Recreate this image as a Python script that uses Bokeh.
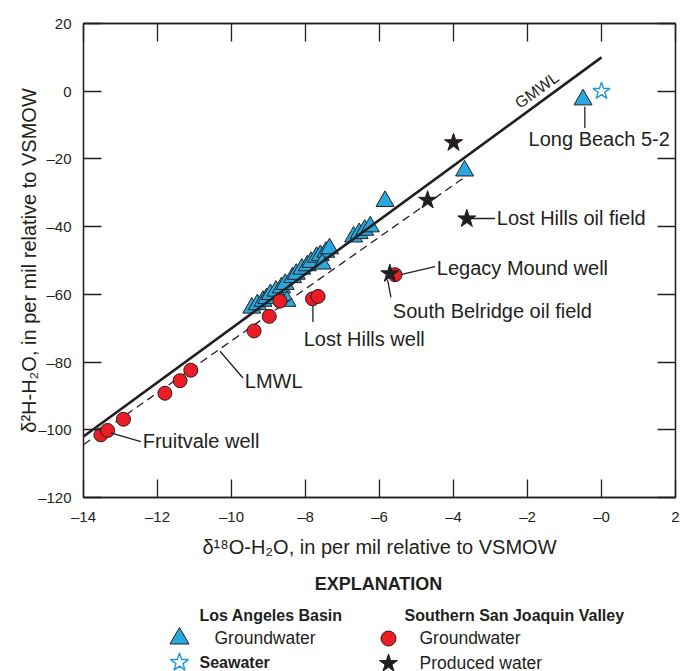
from bokeh.plotting import figure
from bokeh.models import Range1d, FixedTicker, LinearAxis
from bokeh.layouts import column
from bokeh.embed import file_html
from bokeh.resources import INLINE
from bokeh.core.properties import value

# ---------------- data ----------------
# Los Angeles Basin groundwater (triangles)
la_gw_d18o = [-9.45, -9.30, -9.15, -9.05, -8.95, -8.80, -8.65, -8.50, -8.55, -8.35,
              -8.25, -8.10, -7.95, -7.85, -7.70, -7.60, -7.45, -7.35, -7.55, -6.70,
              -6.55, -6.40, -6.25, -5.85, -3.70, -0.50]
la_gw_d2h = [-64.0, -63.0, -62.0, -61.2, -60.0, -59.0, -58.0, -62.0, -57.0, -55.0,
             -54.0, -52.5, -51.5, -50.5, -49.0, -48.5, -47.5, -46.5, -51.0, -43.0,
             -42.0, -41.0, -40.0, -32.5, -23.5, -2.5]
# Seawater
sea_d18o = [0.0]
sea_d2h = [0.0]
# Southern San Joaquin Valley groundwater (circles)
sj_gw_d18o = [-13.53, -13.35, -12.92, -11.80, -11.39, -11.10, -9.39, -8.98, -8.69,
              -7.81, -7.66, -5.58]
sj_gw_d2h = [-101.5, -100.2, -96.9, -89.2, -85.5, -82.4, -70.8, -66.5, -62.0,
             -61.3, -60.6, -54.2]
# Southern San Joaquin Valley produced water (stars)
prod_d18o = [-4.00, -4.70, -3.64, -5.72]
prod_d2h = [-15.2, -32.2, -37.7, -53.9]

# meteoric water lines (end points)
gmwl_x = [-14.0, 0.0]
gmwl_y = [-102.0, 10.0]
lmwl_x = [-14.0, -3.7]
lmwl_y = [-104.4, -25.4]

x_ticks = [-14, -12, -10, -8, -6, -4, -2, 0, 2]
x_tick_labels = ["\u201314", "\u201312", "\u201310", "\u20138", "\u20136", "\u20134",
                 "\u20132", "\u20130", "2"]
y_ticks = [-120, -100, -80, -60, -40, -20, 0, 20]
y_tick_labels = ["\u2013120", "\u2013100", "\u201380", "\u201360", "\u201340",
                 "\u201320", "0", "20"]

# annotations: text, text x, text y, leader x0, y0, x1, y1
ann_text = ["Long Beach 5-2", "Lost Hills oil field", "Legacy Mound well",
            "South Belridge oil field", "Lost Hills well", "LMWL", "Fruitvale well"]
ann_x = [-1.97, -2.83, -4.45, -5.64, -8.05, -9.64, -12.40]
ann_y = [-14.1, -37.4, -52.1, -65.0, -73.2, -85.6, -103.2]
lead_x0 = [-0.45, -3.50, -5.40, -5.78, -7.80, -10.31, -13.26]
lead_y0 = [-4.6, -37.6, -54.1, -55.8, -63.4, -76.8, -100.9]
lead_x1 = [-0.45, -2.88, -4.50, -5.69, -7.80, -9.69, -12.45]
lead_y1 = [-10.9, -37.6, -51.8, -60.9, -68.2, -84.7, -103.5]

TXT = "#231f20"
BLUE = "#29a8e0"
RED = "#ec1c24"
FONT = "Liberation Sans"

p = figure(width=689, height=560, x_range=Range1d(-14, 2), y_range=Range1d(-120, 20),
           output_backend="svg", toolbar_location=None,
           min_border_left=83, min_border_right=14, min_border_top=23, min_border_bottom=40)
p.grid.visible = False
p.outline_line_color = TXT
p.outline_line_width = 1.3
p.background_fill_color = "white"
p.border_fill_color = "white"

for ax in (p.xaxis[0], p.yaxis[0]):
    ax.major_tick_in = 18
    ax.major_tick_out = 0
    ax.minor_tick_line_color = None
    ax.axis_line_color = TXT
    ax.axis_line_width = 1.3
    ax.major_tick_line_color = TXT
    ax.major_tick_line_width = 1.3
    ax.major_label_text_font = FONT
    ax.major_label_text_font_size = "15px"
    ax.major_label_text_color = TXT
    ax.axis_label_text_font = FONT
    ax.axis_label_text_font_size = "20px"
    ax.axis_label_text_font_style = "normal"
    ax.axis_label_text_color = TXT

p.xaxis[0].ticker = FixedTicker(ticks=x_ticks)
p.xaxis[0].major_label_overrides = dict(zip(x_ticks, x_tick_labels))
p.xaxis[0].axis_label = "\u03b4\u00b9\u2078O-H\u2082O, in per mil relative to VSMOW"
p.xaxis[0].major_label_standoff = 10
p.xaxis[0].axis_label_standoff = 8
p.yaxis[0].ticker = FixedTicker(ticks=y_ticks)
p.yaxis[0].major_label_overrides = dict(zip(y_ticks, y_tick_labels))
p.yaxis[0].axis_label = "\u03b4\u00b2H-H\u2082O, in per mil relative to VSMOW"
p.yaxis[0].major_label_standoff = 12
p.yaxis[0].axis_label_standoff = -5

# ticks on top / right (no labels painted)
def tick_axis(ticks):
    return LinearAxis(ticker=FixedTicker(ticks=ticks), major_label_text_font_size="1px",
                      major_label_text_color=None, major_label_standoff=0,
                      major_tick_in=18, major_tick_out=0, minor_tick_line_color=None,
                      axis_line_color=TXT, axis_line_width=1.3,
                      major_tick_line_color=TXT, major_tick_line_width=1.3)

p.add_layout(tick_axis(x_ticks), "above")
p.add_layout(tick_axis(y_ticks), "right")

# markers and lines
p.scatter(la_gw_d18o, la_gw_d2h, marker="triangle", size=18, fill_color=BLUE,
          line_color=TXT, line_width=1)
p.line(gmwl_x, gmwl_y, line_color=TXT, line_width=2.6)
p.line(lmwl_x, lmwl_y, line_color=TXT, line_width=1.3, line_dash="8 5")
p.scatter(sj_gw_d18o, sj_gw_d2h, marker="circle", size=14, fill_color=RED,
          line_color=TXT, line_width=1)
p.scatter(prod_d18o, prod_d2h, marker="star", size=19, fill_color=TXT,
          line_color=TXT, line_width=1)
p.scatter(sea_d18o, sea_d2h, marker="star", size=18, fill_color="white",
          line_color="#1b9ad6", line_width=1.4)

p.segment(lead_x0, lead_y0, lead_x1, lead_y1, line_color=TXT, line_width=1.3)
p.text(ann_x, ann_y, text=ann_text, text_font=value(FONT), text_font_size="20px",
       text_color=TXT, text_baseline="middle", text_align="left")
p.text([-1.75], [0.3], text=["GMWL"], angle=0.634, text_font=value(FONT),
       text_font_size="16px", text_color=TXT, text_baseline="middle", text_align="center")

# ---------------- explanation ----------------
LH = 111
top0 = 560
q = figure(width=689, height=LH, x_range=Range1d(83, 675), y_range=Range1d(LH, 0),
           output_backend="svg", toolbar_location=None, x_axis_type=None, y_axis_type=None,
           min_border_left=83, min_border_right=14, min_border_top=0, min_border_bottom=0)
q.grid.visible = False
q.outline_line_color = None

q.text([378], [583 - top0], text=["EXPLANATION"], text_font=value(FONT),
       text_font_size="18px", text_font_style="bold", text_color=TXT,
       text_align="center", text_baseline="middle")
q.text([199, 404], [615 - top0, 615 - top0],
       text=["Los Angeles Basin", "Southern San Joaquin Valley"], text_font=value(FONT),
       text_font_size="16px", text_font_style="bold", text_color=TXT,
       text_align="left", text_baseline="middle")
q.text([214, 419, 419], [637 - top0, 637 - top0, 662 - top0],
       text=["Groundwater", "Groundwater", "Produced water"], text_font=value(FONT),
       text_font_size="17.5px", text_color=TXT, text_align="left", text_baseline="middle")
q.text([199], [662 - top0], text=["Seawater"], text_font=value(FONT),
       text_font_size="16px", text_font_style="bold", text_color=TXT,
       text_align="left", text_baseline="middle")
q.scatter([179], [638 - top0], marker="triangle", size=19, fill_color=BLUE,
          line_color=TXT, line_width=1)
q.scatter([388], [638 - top0], marker="circle", size=15, fill_color=RED,
          line_color=TXT, line_width=1)
q.scatter([179], [662 - top0], marker="star", size=19, fill_color="white",
          line_color="#1b9ad6", line_width=1.4)
q.scatter([388], [663 - top0], marker="star", size=19, fill_color=TXT,
          line_color=TXT, line_width=1)

layout = column(p, q, spacing=0)
open("out.html", "w").write(file_html(layout, INLINE))
